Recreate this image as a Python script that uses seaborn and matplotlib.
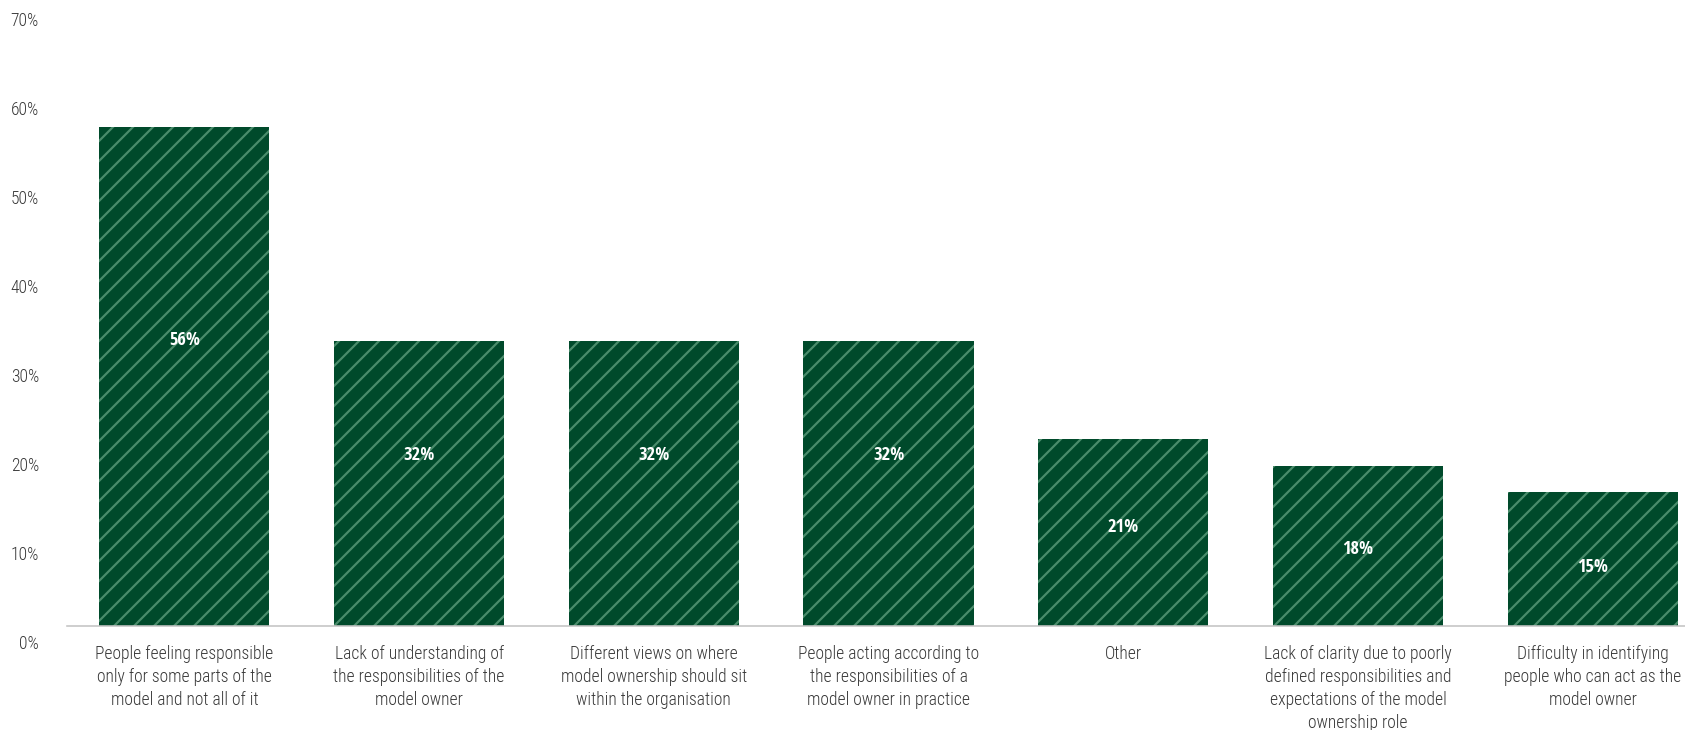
import matplotlib
matplotlib.use("Agg")
import matplotlib.pyplot as plt
import matplotlib.transforms as mtransforms
from matplotlib import font_manager
import seaborn as sns
import pandas as pd

# Survey responses: challenges around model ownership
categories = [
    "People feeling responsible\nonly for some parts of the\nmodel and not all of it",
    "Lack of understanding of\nthe responsibilities of the\nmodel owner",
    "Different views on where\nmodel ownership should sit\nwithin the organisation",
    "People acting according to\nthe responsibilities of a\nmodel owner in practice",
    "Other",
    "Lack of clarity due to poorly\ndefined responsibilities and\nexpectations of the model\nownership role",
    "Difficulty in identifying\npeople who can act as the\nmodel owner",
]
values = [56, 32, 32, 32, 21, 18, 15]
value_labels = ["56%", "32%", "32%", "32%", "21%", "18%", "15%"]
# heights (in % units) at which the value labels sit inside the bars
label_heights = [32.1, 19.2, 19.2, 19.2, 11.2, 8.7, 6.7]
y_ticks = [0, 10, 20, 30, 40, 50, 60, 70]
y_tick_labels = ["0%", "10%", "20%", "30%", "40%", "50%", "60%", "70%"]

BAR_COLOR = "#004a2b"
HATCH_COLOR = "#4a8c6b"
TEXT_COLOR = "#383838"
AXIS_COLOR = "#c4c4c4"

W, H, DPI = 1685, 730, 120


def px(v):
    """Convert a pixel size to points at the figure resolution."""
    return v * 72 / DPI


def weight_num(w):
    if isinstance(w, (int, float)):
        return int(w)
    return font_manager.weight_dict.get(str(w).lower(), 400)


sns.set_style("white")

# choose a condensed sans family: a light/regular face for text, a bold one for values
entries = font_manager.fontManager.ttflist
name_order = ["Open Sans Condensed", "Roboto Condensed", "Liberation Sans Narrow", "Condensed", "Narrow"]


def rank(f):
    for i, key in enumerate(name_order):
        if key in f.name:
            return i
    return len(name_order)


cond = [f for f in entries
        if ("Condensed" in f.name or "Narrow" in f.name) and f.style == "normal"]
regular = sorted([f for f in cond if weight_num(f.weight) <= 400],
                 key=lambda f: (rank(f), abs(weight_num(f.weight) - 300)))
bold = sorted([f for f in cond if weight_num(f.weight) >= 600],
              key=lambda f: (rank(f), abs(weight_num(f.weight) - 700)))

if regular:
    reg = regular[0]
    plt.rcParams["font.family"] = [reg.name, "DejaVu Sans"]
    plt.rcParams["font.weight"] = reg.weight
    plt.rcParams["font.stretch"] = reg.stretch
else:
    plt.rcParams["font.family"] = ["Open Sans", "DejaVu Sans"]

value_font = (font_manager.FontProperties(fname=bold[0].fname, size=px(18.5))
              if bold else
              font_manager.FontProperties(family="Open Sans", weight="bold", size=px(16)))

plt.rcParams["hatch.linewidth"] = px(2.2)
plt.rcParams["hatch.color"] = HATCH_COLOR

fig = plt.figure(figsize=((W + 0.25) / DPI, (H + 0.25) / DPI), dpi=DPI)
left_px, bottom_px, top_px = 67, 104, 3
ax = fig.add_axes([left_px / W, bottom_px / H, (W - left_px) / W, (H - bottom_px - top_px) / H])

df = pd.DataFrame({"category": categories, "value": values})
sns.barplot(data=df, x="category", y="value", color=BAR_COLOR, saturation=1,
            width=0.725, ax=ax)

for patch in ax.patches:
    patch.set_hatch("//")
    patch.set_edgecolor(HATCH_COLOR)
    patch.set_linewidth(0)

for i, (h, txt) in enumerate(zip(label_heights, value_labels)):
    ax.text(i, h, txt, ha="center", va="center", color="white",
            fontproperties=value_font)

ax.set_xlim(-0.5, 6.394)
ax.set_ylim(0, 70)
ax.set_xlabel("")
ax.set_ylabel("")
ax.set_yticks(y_ticks, labels=y_tick_labels)
ax.tick_params(axis="y", length=0, pad=px(28), labelsize=px(17.5), labelcolor=TEXT_COLOR)
ax.tick_params(axis="x", length=0, pad=px(19), labelsize=px(17.5), labelcolor=TEXT_COLOR)
for lab in ax.get_xticklabels():
    lab.set_linespacing(1.36)

# percentage labels sit a little below their reference levels
shift = mtransforms.ScaledTranslation(0, -16 / DPI, fig.dpi_scale_trans)
for lab in ax.get_yticklabels():
    lab.set_transform(lab.get_transform() + shift)

sns.despine(ax=ax, left=True, right=True, top=True)
ax.spines["bottom"].set_color(AXIS_COLOR)
ax.spines["bottom"].set_linewidth(px(1.6))
ax.grid(False)

fig.savefig("out.png", dpi=DPI)
